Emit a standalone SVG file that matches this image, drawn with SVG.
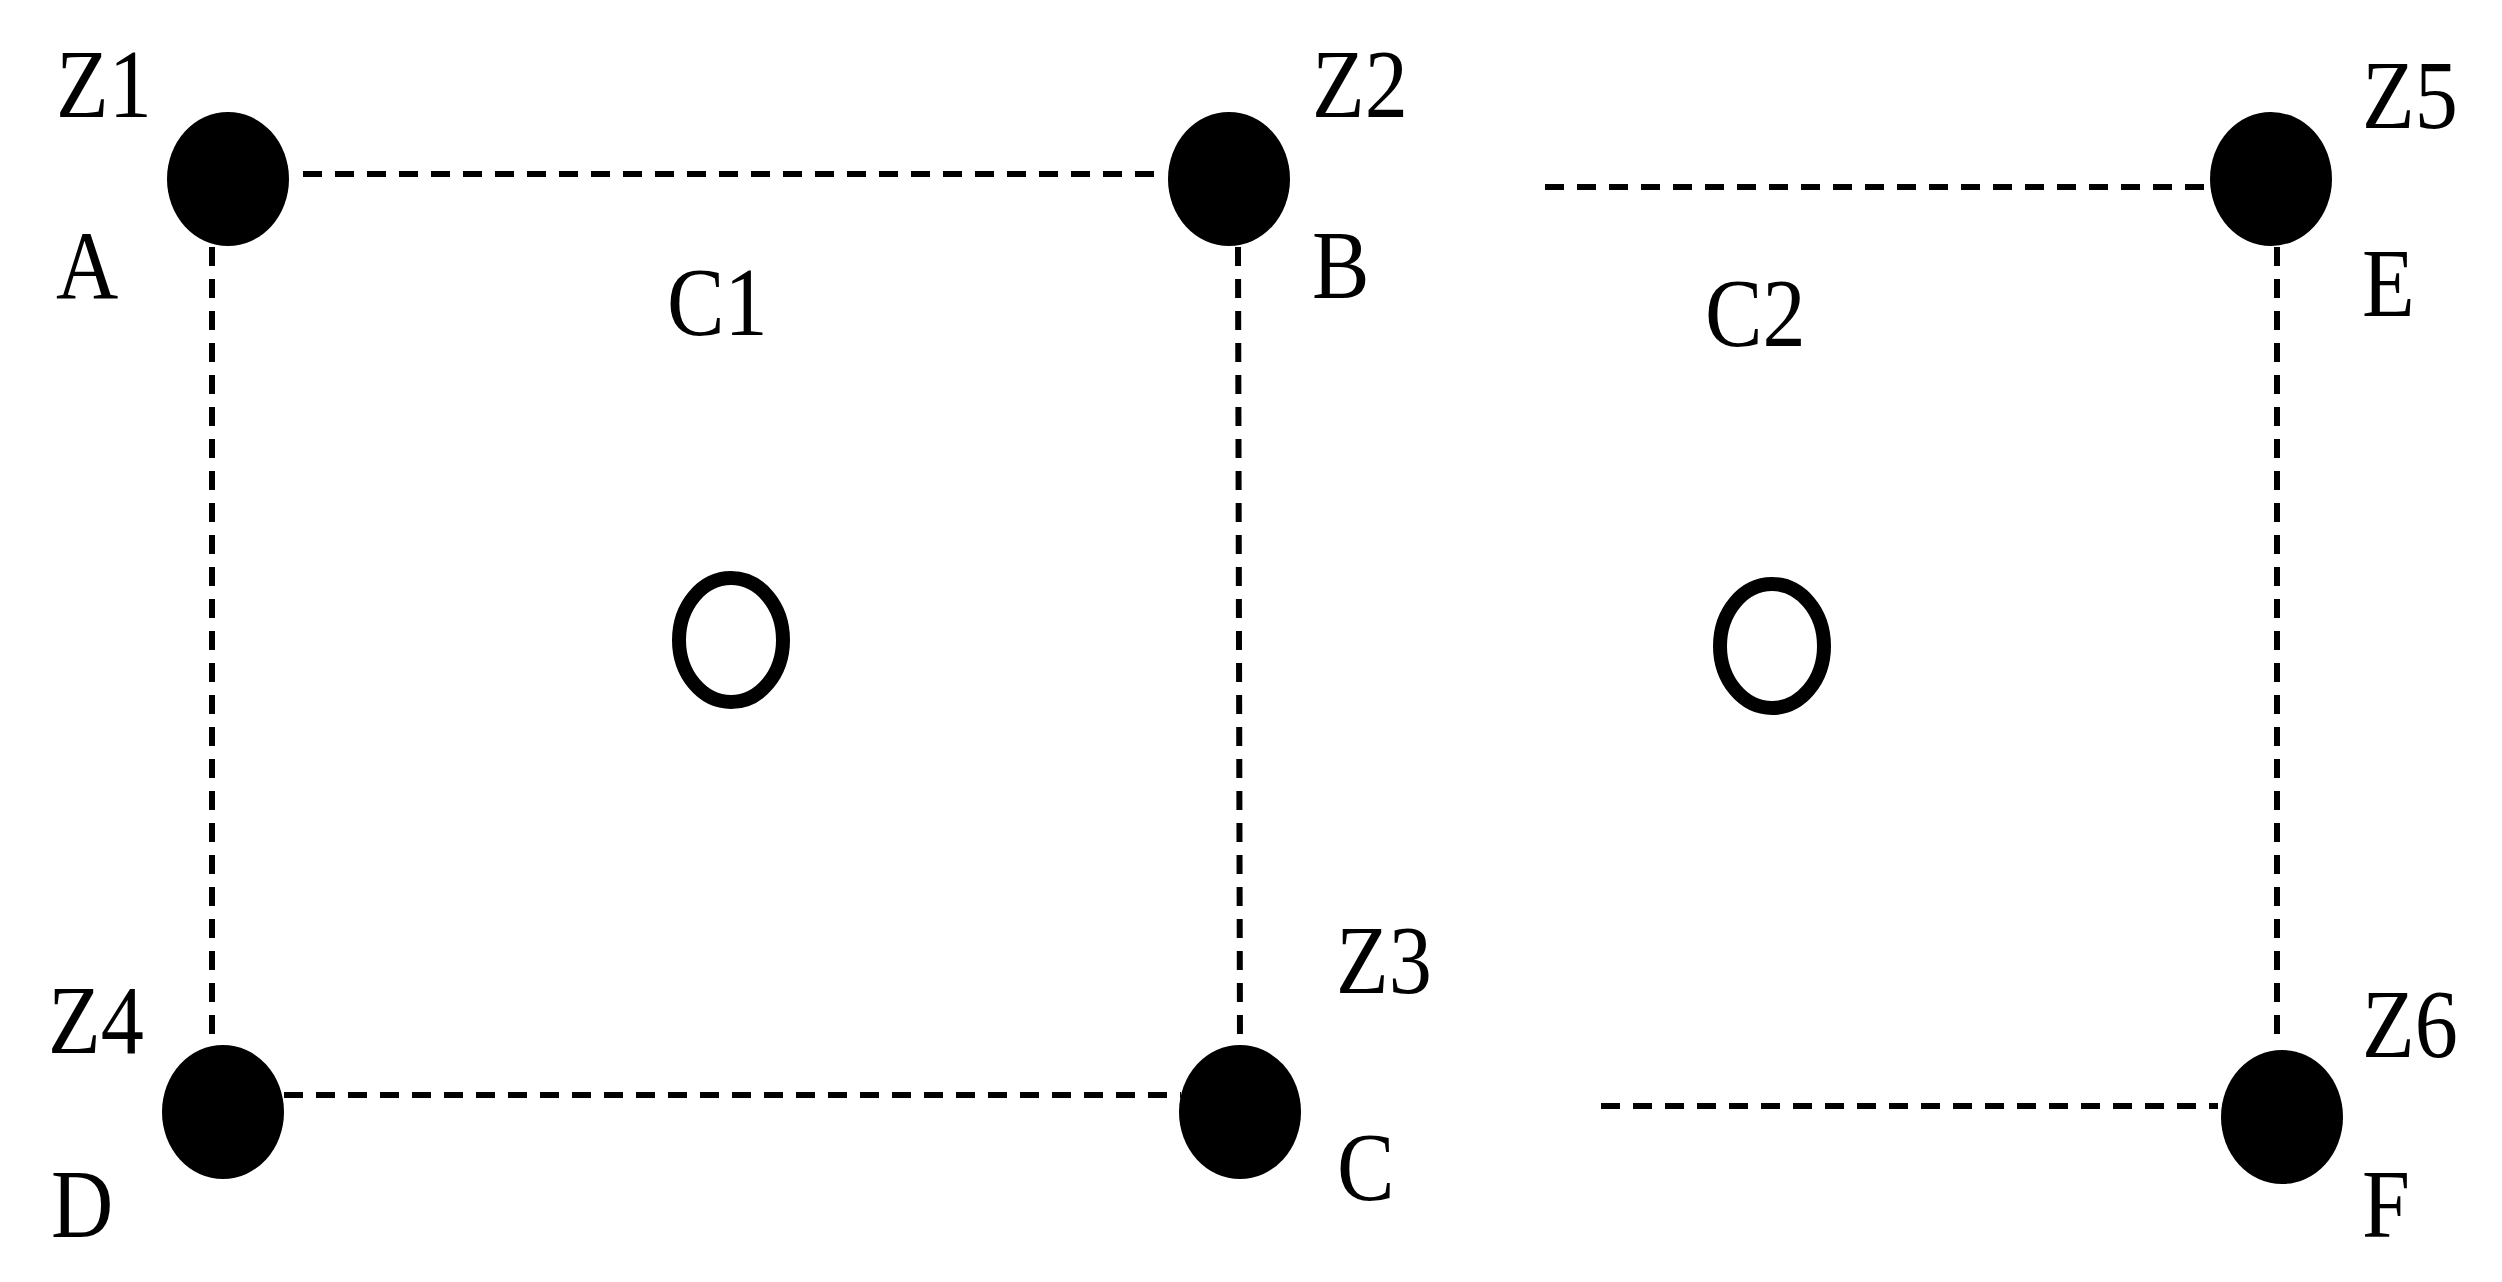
<svg xmlns="http://www.w3.org/2000/svg" width="2502" height="1282" viewBox="0 0 2502 1282">
<style>
.l{stroke:#000;stroke-width:6;stroke-dasharray:19 13;fill:none}
.d{fill:#000}
.o{fill:none;stroke:#000;stroke-width:14}
text{font-family:"Liberation Serif",serif;font-size:98px;fill:#000}
</style>
<rect width="2502" height="1282" fill="#fff"/>
<g id="connectors">
<line class="l" x1="303" y1="174" x2="1165" y2="174"/>
<line class="l" x1="212" y1="247" x2="212" y2="1045"/>
<line class="l" x1="1238" y1="247" x2="1240" y2="1045"/>
<line class="l" x1="284" y1="1095" x2="1181" y2="1095"/>
<line class="l" x1="1545" y1="187" x2="2210" y2="187"/>
<line class="l" x1="2277" y1="247" x2="2277" y2="1045"/>
<line class="l" x1="1601" y1="1106" x2="2218" y2="1106"/>
</g>
<g id="A"><ellipse class="d" cx="228" cy="179" rx="61" ry="67"/><text transform="translate(56,117) scale(0.88,1)">Z1</text><text transform="translate(56,298) scale(0.88,1)">A</text></g>
<g id="B"><ellipse class="d" cx="1229" cy="179" rx="61" ry="67"/><text transform="translate(1312,117) scale(0.88,1)">Z2</text><text transform="translate(1312,298) scale(0.88,1)">B</text></g>
<g id="E"><ellipse class="d" cx="2271" cy="179" rx="61" ry="67"/><text transform="translate(2362,128) scale(0.88,1)">Z5</text><text transform="translate(2362,316) scale(0.88,1)">E</text></g>
<g id="D"><ellipse class="d" cx="223" cy="1112" rx="61" ry="67"/><text transform="translate(48,1053) scale(0.88,1)">Z4</text><text transform="translate(51,1237) scale(0.88,1)">D</text></g>
<g id="C"><ellipse class="d" cx="1240" cy="1112" rx="61" ry="67"/><text transform="translate(1336,993) scale(0.88,1)">Z3</text><text transform="translate(1337,1200) scale(0.88,1)">C</text></g>
<g id="F"><ellipse class="d" cx="2282" cy="1117" rx="61" ry="67"/><text transform="translate(2362,1057) scale(0.88,1)">Z6</text><text transform="translate(2362,1237) scale(0.88,1)">F</text></g>
<g id="C1"><ellipse class="o" cx="731" cy="640" rx="52" ry="62"/><text transform="translate(667,335) scale(0.88,1)">C1</text></g>
<g id="C2"><ellipse class="o" cx="1772" cy="646" rx="52" ry="62"/><text transform="translate(1705,346) scale(0.88,1)">C2</text></g>
</svg>
